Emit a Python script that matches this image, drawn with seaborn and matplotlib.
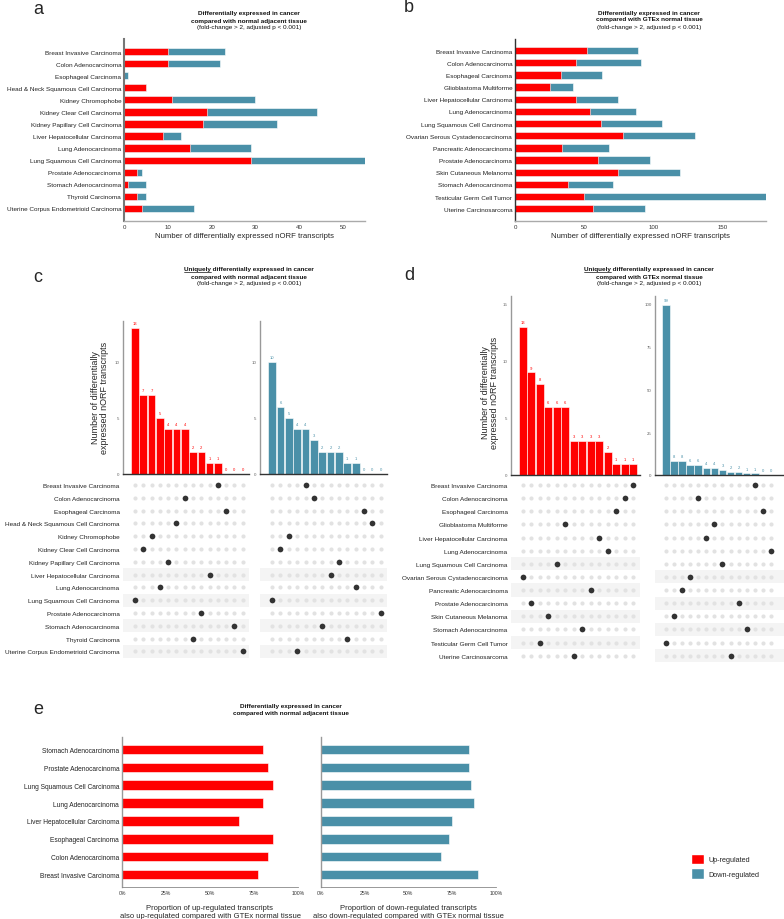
import numpy as np
import pandas as pd
import seaborn as sns
import matplotlib.pyplot as plt
from matplotlib.patches import Patch
from matplotlib.ticker import PercentFormatter

sns.set_style('white')
plt.rcParams['font.family'] = ['Liberation Sans', 'DejaVu Sans']

RED = '#FF0000'
BLUE = '#4A90A8'

# ---- panel a : vs normal adjacent tissue
cancers_a = ['Breast Invasive Carcinoma', 'Colon Adenocarcinoma', 'Esophageal Carcinoma',
             'Head & Neck Squamous Cell Carcinoma', 'Kidney Chromophobe', 'Kidney Clear Cell Carcinoma',
             'Kidney Papillary Cell Carcinoma', 'Liver Hepatocellular Carcinoma', 'Lung Adenocarcinoma',
             'Lung Squamous Cell Carcinoma', 'Prostate Adenocarcinoma', 'Stomach Adenocarcinoma',
             'Thyroid Carcinoma', 'Uterine Corpus Endometrioid Carcinoma']
up_a = [10, 10, 0, 5, 11, 19, 18, 9, 15, 29, 3, 1, 3, 4]
down_a = [13, 12, 1, 0, 19, 25, 17, 4, 14, 26, 1, 4, 2, 12]

# ---- panel b : vs GTEx normal tissue
cancers_b = ['Breast Invasive Carcinoma', 'Colon Adenocarcinoma', 'Esophageal Carcinoma',
             'Glioblastoma Multiforme', 'Liver Hepatocellular Carcinoma', 'Lung Adenocarcinoma',
             'Lung Squamous Cell Carcinoma', 'Ovarian Serous Cystadenocarcinoma', 'Pancreatic Adenocarcinoma',
             'Prostate Adenocarcinoma', 'Skin Cutaneous Melanoma', 'Stomach Adenocarcinoma',
             'Testicular Germ Cell Tumor', 'Uterine Carcinosarcoma']
up_b = [52, 44, 33, 25, 44, 54, 62, 78, 34, 60, 74, 38, 50, 56]
down_b = [37, 47, 30, 17, 30, 33, 44, 52, 34, 37, 45, 33, 131, 38]

# ---- panel c : uniquely DE (normal adjacent); column index per cancer (same order as cancers_a)
uniq_up_c = [13, 7, 7, 5, 4, 4, 4, 2, 2, 1, 1, 0, 0, 0]
uniq_down_c = [10, 6, 5, 4, 4, 3, 2, 2, 2, 1, 1, 0, 0, 0]
col_up_c = [10, 6, 11, 5, 2, 1, 4, 9, 3, 0, 8, 12, 7, 13]
col_down_c = [4, 5, 11, 12, 2, 1, 8, 7, 10, 0, 13, 6, 9, 3]

# ---- panel d : uniquely DE (GTEx); column index per cancer (same order as cancers_b)
uniq_up_d = [13, 9, 8, 6, 6, 6, 3, 3, 3, 3, 2, 1, 1, 1]
uniq_down_d = [99, 8, 8, 6, 6, 4, 4, 3, 2, 2, 1, 1, 0, 0]
col_up_d = [13, 12, 11, 5, 9, 10, 4, 0, 8, 1, 3, 7, 2, 6]
col_down_d = [11, 4, 12, 6, 5, 13, 7, 3, 2, 9, 1, 10, 0, 8]

# ---- panel e : proportions also DE vs GTEx
cancers_e = ['Stomach Adenocarcinoma', 'Prostate Adenocarcinoma', 'Lung Squamous Cell Carcinoma',
             'Lung Adenocarcinoma', 'Liver Hepatocellular Carcinoma', 'Esophageal Carcinoma',
             'Colon Adenocarcinoma', 'Breast Invasive Carcinoma']
prop_up_e = [0.80, 0.83, 0.86, 0.80, 0.667, 0.86, 0.83, 0.77]
prop_down_e = [0.846, 0.846, 0.858, 0.875, 0.75, 0.73, 0.687, 0.90]

W, H = 784, 920
fig = plt.figure(figsize=(W / 100, H / 100), dpi=100)

LAB = 4.6    # category label size
TIT = 4.6    # title size


def px_axes(l, t, r, b):
    return fig.add_axes([l / W, 1 - b / H, (r - l) / W, (b - t) / H])


def ftext(x, y, s, **kw):
    return fig.text(x / W, 1 - y / H, s, **kw)


def style_spines(ax, left='#777777', bottom='#aaaaaa', lw_left=1.5, lw_bottom=1.0):
    sns.despine(ax=ax)
    ax.spines['left'].set_color(left)
    ax.spines['left'].set_linewidth(lw_left)
    ax.spines['bottom'].set_color(bottom)
    ax.spines['bottom'].set_linewidth(lw_bottom)


def stacked_h(ax, cancers, up, down, xlim, xticks, pad_top, pad_bot):
    df = pd.DataFrame({'cancer': cancers, 'up': up, 'down': down})
    df['total'] = df['up'] + df['down']
    sns.barplot(data=df, x='total', y='cancer', color=BLUE, saturation=1, width=0.6,
                edgecolor='white', linewidth=0.4, ax=ax)
    sns.barplot(data=df, x='up', y='cancer', color=RED, saturation=1, width=0.6,
                edgecolor='white', linewidth=0.4, ax=ax)
    ax.set_xlim(*xlim)
    ax.set_xticks(xticks)
    ax.set_ylim(len(cancers) - 1 + pad_bot, -pad_top)
    ax.set_ylabel('')
    ax.set_xlabel('Number of differentially expressed nORF transcripts', fontsize=5.6, labelpad=1.5)
    ax.tick_params(axis='y', length=0, labelsize=LAB, pad=2, colors='#222222')
    ax.tick_params(axis='x', length=1.5, labelsize=4.4, pad=1, colors='#333333')


def title_block(cx, ys, lines, n_bold=None, underline_first=None):
    if n_bold is None:
        n_bold = len(lines) - 1
    for i, (y, s) in enumerate(zip(ys, lines)):
        t = ftext(cx, y, s, ha='center', va='center', fontsize=TIT,
                  weight='bold' if i < n_bold else 'normal', color='#111111')
        if i == 0 and underline_first:
            r = fig.canvas.get_renderer()
            bb = t.get_window_extent(r)
            tmp = ftext(0, 0, underline_first, fontsize=TIT, weight='bold')
            w = tmp.get_window_extent(r).width
            tmp.remove()
            y0 = bb.y0 - 0.2
            fig.add_artist(plt.Line2D([bb.x0 / W, (bb.x0 + w) / W], [y0 / H, y0 / H],
                                      color='#111111', lw=0.5))


# ================= panel a
ax = px_axes(124, 40, 365, 222)
stacked_h(ax, cancers_a, up_a, down_a, (0, 55), [0, 10, 20, 30, 40, 50], 1.05, 1.05)
style_spines(ax)
ftext(33, 9, 'a', fontsize=13, ha='left', va='center')
title_block(249, [14, 21, 28], ['Differentially expressed in cancer',
                               'compared with normal adjacent tissue',
                               '(fold-change > 2, adjusted p < 0.001)'])

# ================= panel b
ax = px_axes(515, 40, 766, 222)
stacked_h(ax, cancers_b, up_b, down_b, (0, 181), [0, 50, 100, 150], 0.95, 1.0)
style_spines(ax, left='#333333', bottom='#aaaaaa', lw_left=1.0)
ftext(404, 8, 'b', fontsize=13, ha='left', va='center')
title_block(649, [13, 20, 27], ['Differentially expressed in cancer',
                               'compared with GTEx normal tissue',
                               '(fold-change > 2, adjusted p < 0.001)'])


# ================= panels c / d helpers
def column_bars(ax, vals, color, ylim, yticks, xlim):
    sns.barplot(x=list(range(len(vals))), y=vals, color=color, saturation=1, width=0.92,
                edgecolor='white', linewidth=0.4, ax=ax)
    ax.bar_label(ax.containers[0], labels=[str(v) for v in vals], fontsize=3,
                 color=color, padding=2)
    ax.set_xlim(*xlim)
    ax.set_ylim(*ylim)
    ax.set_yticks(yticks)
    ax.set_xticks([])
    ax.set_xlabel('')
    ax.set_ylabel('')
    ax.tick_params(axis='y', length=1.5, labelsize=3.2, pad=1, colors='#666666')
    style_spines(ax, left='#999999', bottom='#333333', lw_left=1.0, lw_bottom=1.0)


def dot_matrix(ax, cancers, cols, xlim, labels=True, shade_from=7):
    n = len(cancers)
    grid = pd.DataFrame([(c, r) for r in range(n) for c in range(n)], columns=['col', 'row'])
    hits = pd.DataFrame({'col': cols, 'row': list(range(n))})
    for r in range(shade_from, n, 2):
        ax.axhspan(r - 0.5, r + 0.5, color='#f4f4f4', zorder=0, lw=0)
    sns.scatterplot(data=grid, x='col', y='row', color='#e2e2e2', s=9, linewidth=0,
                    legend=False, ax=ax, zorder=2)
    sns.scatterplot(data=hits, x='col', y='row', color='#333333', s=17, linewidth=0,
                    legend=False, ax=ax, zorder=3)
    ax.set_xlim(*xlim)
    ax.set_ylim(n - 0.5, -0.5)
    ax.set_xticks([])
    ax.set_xlabel('')
    ax.set_ylabel('')
    if labels:
        ax.set_yticks(range(n))
        ax.set_yticklabels(cancers)
        ax.tick_params(axis='y', length=1.5, width=0.5, labelsize=LAB, pad=1, colors='#222222')
    else:
        ax.set_yticks([])
    for s in ax.spines.values():
        s.set_visible(False)


# ================= panel c
xl_c = (-1.45, 13.75)
ax = px_axes(123, 322, 249, 475)
column_bars(ax, uniq_up_c, RED, (0, 13.6), [0, 5, 10], xl_c)
ax = px_axes(260, 322, 387, 475)
column_bars(ax, uniq_down_c, BLUE, (0, 13.6), [0, 5, 10], xl_c)
ax = px_axes(123, 479.6, 249, 658.8)
dot_matrix(ax, cancers_a, col_up_c, xl_c, labels=True)
ax = px_axes(260, 479.6, 387, 658.8)
dot_matrix(ax, cancers_a, col_down_c, xl_c, labels=False)
ftext(100, 398, 'Number of differentially\nexpressed nORF transcripts', rotation=90,
      ha='center', va='center', fontsize=6.5, linespacing=1.1)
ftext(33, 278, 'c', fontsize=13, ha='left', va='center')
title_block(249, [270, 277, 284], ['Uniquely differentially expressed in cancer',
                                  'compared with normal adjacent tissue',
                                  '(fold-change > 2, adjusted p < 0.001)'], underline_first='Uniquely')

# ================= panel d
ax = px_axes(511, 297, 640, 476)
column_bars(ax, uniq_up_d, RED, (0, 15.7), [0, 5, 10, 15], (-1.38, 13.8))
ax = px_axes(655, 297, 784, 476)
column_bars(ax, uniq_down_d, BLUE, (0, 104.3), [0, 25, 50, 75, 100], (-1.34, 14.6))
ax = px_axes(511, 479.4, 640, 663.3)
dot_matrix(ax, cancers_b, col_up_d, (-1.38, 13.8), labels=True, shade_from=6)
ax = px_axes(655, 479.4, 784, 663.3)
dot_matrix(ax, cancers_b, col_down_d, (-1.34, 14.6), labels=False, shade_from=7)
ftext(490, 393, 'Number of differentially\nexpressed nORF transcripts', rotation=90,
      ha='center', va='center', fontsize=6.5, linespacing=1.1)
ftext(404, 276, 'd', fontsize=13, ha='left', va='center')
title_block(649, [270, 277, 284], ['Uniquely differentially expressed in cancer',
                                  'compared with GTEx normal tissue',
                                  '(fold-change > 2, adjusted p < 0.001)'], underline_first='Uniquely')


# ================= panel e
def prop_bars(ax, vals, color, labels=True):
    df = pd.DataFrame({'cancer': cancers_e, 'prop': vals})
    sns.barplot(data=df, x='prop', y='cancer', color=color, saturation=1, width=0.52,
                edgecolor='white', linewidth=0.4, ax=ax)
    ax.set_xlim(0, 1)
    ax.set_ylim(len(cancers_e) - 1 + 0.69, -0.69)
    ax.set_xticks([0, 0.25, 0.5, 0.75, 1.0])
    ax.xaxis.set_major_formatter(PercentFormatter(1.0, decimals=0))
    ax.set_ylabel('')
    ax.tick_params(axis='x', length=1, labelsize=3.7, pad=1, colors='#333333')
    if labels:
        ax.tick_params(axis='y', length=0, labelsize=4.8, pad=2, colors='#222222')
    else:
        ax.set_yticklabels([])
        ax.tick_params(axis='y', length=0)
    style_spines(ax, left='#999999', bottom='#888888', lw_left=1.0, lw_bottom=0.6)


ax = px_axes(122, 738, 298, 888)
prop_bars(ax, prop_up_e, RED)
ax.set_xlabel('Proportion of up-regulated transcripts\nalso up-regulated compared with GTEx normal tissue',
              fontsize=5.5, labelpad=7, linespacing=1.05)
ax = px_axes(320.7, 738, 496, 888)
prop_bars(ax, prop_down_e, BLUE, labels=False)
ax.set_xlabel('Proportion of down-regulated transcripts\nalso down-regulated compared with GTEx normal tissue',
              fontsize=5.5, labelpad=7, linespacing=1.05)
ftext(33, 710, 'e', fontsize=13, ha='left', va='center')
title_block(291, [707, 714], ['Differentially expressed in cancer',
                             'compared with normal adjacent tissue'], n_bold=2)

fig.legend(handles=[Patch(facecolor=RED, label='Up-regulated'),
                    Patch(facecolor=BLUE, label='Down-regulated')],
           loc='upper left', bbox_to_anchor=(684 / W, 1 - 848 / H), frameon=False, fontsize=5.2,
           handlelength=1.9, handleheight=1.9, labelspacing=0.55, handletextpad=0.6)

fig.savefig('out.png', dpi=100)
